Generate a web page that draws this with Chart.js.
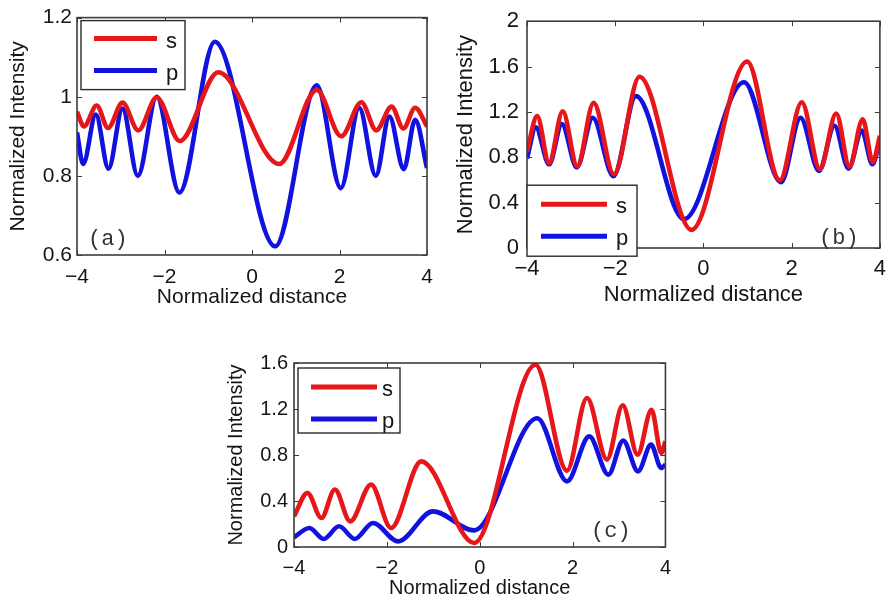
<!DOCTYPE html>
<html>
<head>
<meta charset="utf-8">
<script src="https://cdn.jsdelivr.net/npm/chart.js@4.4.1/dist/chart.umd.min.js"></script>
<style>
  html, body { margin: 0; padding: 0; background: #fff; }
  #wrap { position: relative; width: 894px; height: 601px; overflow: hidden; }
  canvas { position: absolute; }
</style>
</head>
<body>
<div id="wrap">
  <canvas id="pa" width="445" height="312" style="left:0;top:0"></canvas>
  <canvas id="pb" width="444" height="312" style="left:450px;top:0"></canvas>
  <canvas id="pc" width="460" height="261" style="left:220px;top:340px"></canvas>
</div>
<script>
/* panel (a) — at the turning points */
const aSX = [-4, -3.84, -3.55, -3.29, -2.96, -2.6, -2.18, -1.65, -0.77, 0.62, 1.48, 2.04, 2.5, 2.84, 3.19, 3.46, 3.73, 4];
const aSY = [0.962, 0.925, 0.978, 0.921, 0.985, 0.915, 0.998, 0.888, 1.062, 0.83, 1.017, 0.9, 0.986, 0.915, 0.975, 0.92, 0.972, 0.925];
const aPX = [-4, -3.86, -3.57, -3.28, -2.96, -2.61, -2.18, -1.66, -0.85, 0.53, 1.48, 2.03, 2.45, 2.83, 3.14, 3.47, 3.73, 4];
const aPY = [0.91, 0.83, 0.955, 0.818, 0.97, 0.80, 1.0, 0.758, 1.139, 0.622, 1.029, 0.769, 0.972, 0.80, 0.95, 0.817, 0.942, 0.82];

/* panel (b) */
const bSX = [-4, -3.77, -3.5, -3.19, -2.86, -2.49, -2.03, -1.45, -0.27, 0.99, 1.73, 2.23, 2.64, 3.01, 3.31, 3.61, 3.84, 4];
const bSY = [0.85, 1.163, 0.75, 1.205, 0.72, 1.28, 0.65, 1.51, 0.16, 1.645, 0.596, 1.285, 0.695, 1.186, 0.718, 1.135, 0.757, 0.99];
const bPX = [-4, -3.8, -3.5, -3.21, -2.87, -2.51, -2.04, -1.53, -0.44, 0.92, 1.76, 2.2, 2.62, 2.97, 3.29, 3.59, 3.83, 4];
const bPY = [0.79, 1.064, 0.738, 1.092, 0.71, 1.149, 0.633, 1.339, 0.255, 1.461, 0.58, 1.149, 0.68, 1.078, 0.70, 1.035, 0.738, 0.95];

/* panel (c) */
const cSX = [-4, -3.71, -3.41, -3.12, -2.79, -2.34, -1.91, -1.26, -0.12, 1.2, 1.88, 2.31, 2.74, 3.08, 3.4, 3.7, 3.91, 4];
const cSY = [0.267, 0.47, 0.252, 0.50, 0.223, 0.542, 0.165, 0.745, 0.035, 1.585, 0.664, 1.296, 0.76, 1.232, 0.803, 1.194, 0.817, 0.92];
const cPX = [-4, -3.67, -3.36, -3.03, -2.69, -2.3, -1.76, -1.01, -0.12, 1.24, 1.88, 2.36, 2.77, 3.09, 3.41, 3.69, 3.91, 4];
const cPY = [0.084, 0.165, 0.07, 0.18, 0.07, 0.209, 0.049, 0.31, 0.145, 1.12, 0.571, 0.962, 0.629, 0.925, 0.658, 0.89, 0.687, 0.716];

const xTicks = [-4, -2, 0, 2, 4];
const seriesNames = ["s", "p"];

const RED = "rgb(230,22,26)";
const BLUE = "rgb(18,18,222)";
const INK = "#151515";

const pts = (xs, ys) => xs.map((x, i) => ({ x, y: ys[i] }));
const fmt = (v) => (v < 0 ? "\u2212" + Math.abs(+v.toFixed(1)) : String(+v.toFixed(1)));

// MATLAB style box with inward ticks
const frame = {
  id: "frame",
  afterDatasetsDraw(chart) {
    const { ctx, chartArea: a, scales: { x, y } } = chart;
    ctx.save();
    ctx.strokeStyle = "#3c3c3c";
    ctx.lineWidth = 1;
    ctx.beginPath();
    x.ticks.forEach((t) => {
      const px = Math.round(x.getPixelForValue(t.value)) + 0.5;
      ctx.moveTo(px, a.bottom); ctx.lineTo(px, a.bottom - 5);
      ctx.moveTo(px, a.top); ctx.lineTo(px, a.top + 5);
    });
    y.ticks.forEach((t) => {
      const py = Math.round(y.getPixelForValue(t.value)) + 0.5;
      ctx.moveTo(a.left, py); ctx.lineTo(a.left + 5, py);
      ctx.moveTo(a.right, py); ctx.lineTo(a.right - 5, py);
    });
    ctx.stroke();
    ctx.lineWidth = 1.6;
    ctx.strokeRect(a.left, a.top, a.width, a.height);
    ctx.restore();
  },
};

// boxed legend + panel tag drawn inside the axes
const boxLegend = {
  id: "boxLegend",
  afterDraw(chart, args, o) {
    const { ctx, chartArea: a } = chart;
    const L = a.left, T = a.top;
    ctx.save();
    ctx.fillStyle = "#fff";
    ctx.fillRect(L + o.box[0], T + o.box[1], o.box[2], o.box[3]);
    ctx.strokeStyle = "#2a2a2a";
    ctx.lineWidth = 1.4;
    ctx.strokeRect(L + o.box[0], T + o.box[1], o.box[2], o.box[3]);
    ctx.font = o.size + "px 'Liberation Sans', Arial, sans-serif";
    ctx.textBaseline = "alphabetic";
    chart.data.datasets.forEach((ds, i) => {
      const ly = T + o.rows[i];
      ctx.strokeStyle = ds.borderColor;
      ctx.lineWidth = 5;
      ctx.beginPath();
      ctx.moveTo(L + o.line[0], ly);
      ctx.lineTo(L + o.line[1], ly);
      ctx.stroke();
      ctx.fillStyle = INK;
      ctx.fillText(ds.label, L + o.textX, ly + o.size * 0.42);
    });
    ctx.font = "22px 'Liberation Mono', 'DejaVu Sans Mono', monospace";
    ctx.fillStyle = "#333";
    ctx.textBaseline = "middle";
    ctx.fillText(o.tag, L + o.tagPos[0], T + o.tagPos[1]);
    ctx.restore();
  },
};

function makePanel(id, cfg) {
  const font = { family: "'Liberation Sans', Arial, sans-serif", size: cfg.size };
  return new Chart(document.getElementById(id), {
    type: "line",
    data: {
      datasets: [
        { label: seriesNames[0], data: pts(cfg.sx, cfg.sy), borderColor: RED },
        { label: seriesNames[1], data: pts(cfg.px, cfg.py), borderColor: BLUE },
      ],
    },
    options: {
      responsive: false,
      animation: false,
      devicePixelRatio: 1,
      layout: { autoPadding: false, padding: { top: cfg.top, right: cfg.right, left: 0, bottom: 0 } },
      elements: {
        point: { radius: 0 },
        line: { borderWidth: 4.6, cubicInterpolationMode: "monotone", fill: false },
      },
      plugins: {
        legend: { display: false },
        tooltip: { enabled: false },
        boxLegend: cfg.legend,
      },
      scales: {
        x: {
          type: "linear",
          min: -4, max: 4,
          afterBuildTicks: (s) => { s.ticks = xTicks.map((v) => ({ value: v })); },
          afterFit: (s) => { s.height = cfg.xh; },
          grid: { display: false, drawTicks: false },
          border: { display: false },
          ticks: { color: INK, font, padding: cfg.xpad, maxRotation: 0, callback: fmt },
          title: { display: true, text: "Normalized distance", color: INK, font, padding: { top: 0, bottom: cfg.xtitle } },
        },
        y: {
          min: cfg.ymin, max: cfg.ymax,
          ticks: { stepSize: cfg.step, color: INK, font, padding: cfg.ypad, callback: fmt },
          afterFit: (s) => { s.width = cfg.yw; },
          grid: { display: false, drawTicks: false },
          border: { display: false },
          title: { display: true, text: "Normalized Intensity", color: INK, font, padding: { top: cfg.ytitle, bottom: 0 } },
        },
      },
    },
    plugins: [frame, boxLegend],
  });
}

makePanel("pa", {
  sx: aSX, sy: aSY, px: aPX, py: aPY,
  ymin: 0.6, ymax: 1.2, step: 0.2, size: 21,
  top: 15, right: 18, yw: 77, xh: 57, xpad: 10, ypad: 5, xtitle: 2, ytitle: 6,
  legend: { box: [4, 3, 104, 69], rows: [21, 53], line: [17, 80], textX: 89, size: 22, tag: "(a)", tagPos: [11, 222] },
});

makePanel("pb", {
  sx: bSX, sy: bSY, px: bPX, py: bPY,
  ymin: 0, ymax: 2, step: 0.4, size: 22,
  top: 13, right: 7, yw: 77, xh: 64, xpad: 8, ypad: 8, xtitle: 4, ytitle: 3,
  legend: { box: [0, 164, 110, 71], rows: [183, 215], line: [14, 80], textX: 89, size: 22, tag: "(b)", tagPos: [292, 217] },
});

makePanel("pc", {
  sx: cSX, sy: cSY, px: cPX, py: cPY,
  ymin: 0, ymax: 1.6, step: 0.4, size: 20,
  top: 23, right: 13, yw: 74, xh: 54, xpad: 9, ypad: 6, xtitle: 1, ytitle: 4,
  legend: { box: [4, 5, 102, 65], rows: [24, 56], line: [17, 83], textX: 88, size: 22, tag: "(c)", tagPos: [297, 168] },
});
</script>
</body>
</html>
